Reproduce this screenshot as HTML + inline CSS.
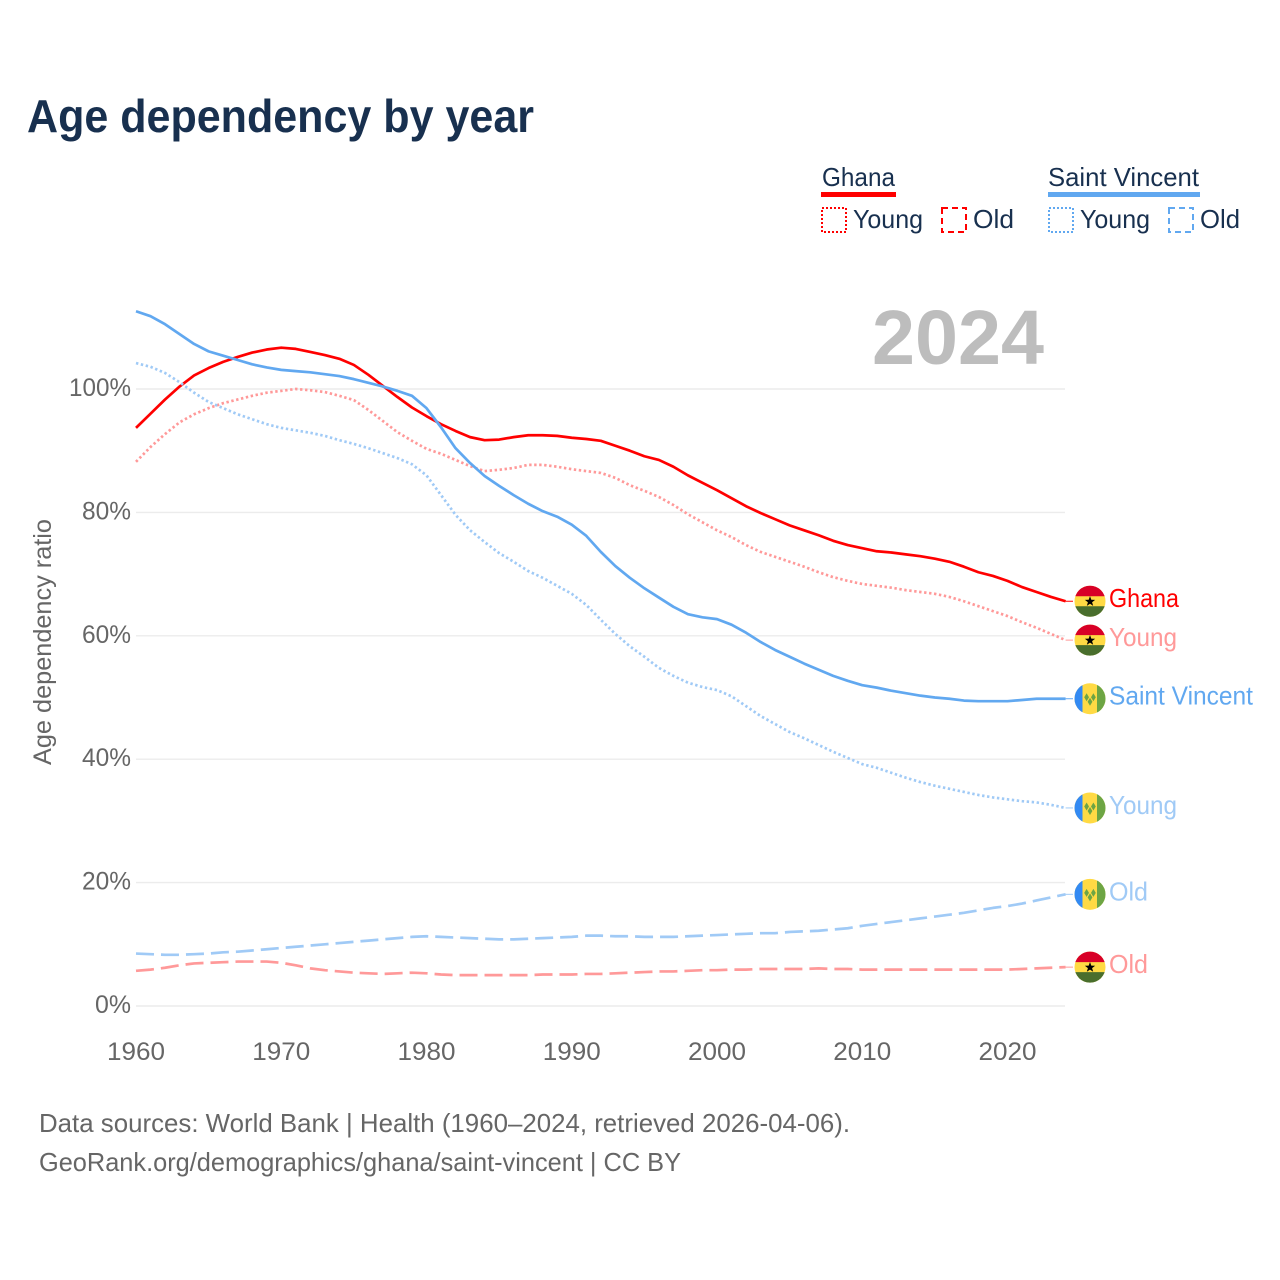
<!DOCTYPE html>
<html lang="en">
<head>
<meta charset="utf-8">
<title>Age dependency by year</title>
<style>
html,body{margin:0;padding:0;background:#fff;}
svg{display:block;font-family:"Liberation Sans",sans-serif;}
</style>
</head>
<body>
<svg id="chart" xmlns="http://www.w3.org/2000/svg" width="1280" height="1280" viewBox="0 0 1280 1280">
  <rect x="0" y="0" width="1280" height="1280" fill="#ffffff"/>
  <text x="27" y="132" font-size="46" font-weight="700" fill="#18304f" textLength="507" lengthAdjust="spacingAndGlyphs">Age dependency by year</text>

  <g font-size="26" fill="#18304f">
    <g>
      <text x="822" y="186" textLength="73" lengthAdjust="spacingAndGlyphs">Ghana</text>
      <rect x="821" y="192" width="75" height="5" fill="#ff0000"/>
    </g>
    <g>
      <rect x="822" y="208" width="24" height="24" fill="none" stroke="#ff0000" stroke-width="2" stroke-dasharray="2,2"/>
      <text x="853" y="228" textLength="70" lengthAdjust="spacingAndGlyphs">Young</text>
    </g>
    <g>
      <rect x="942" y="208" width="24" height="24" fill="none" stroke="#ff0000" stroke-width="2" stroke-dasharray="6,4"/>
      <text x="973" y="228" textLength="41" lengthAdjust="spacingAndGlyphs">Old</text>
    </g>
    <g>
      <text x="1048" y="186" textLength="151" lengthAdjust="spacingAndGlyphs">Saint Vincent</text>
      <rect x="1048" y="192" width="152" height="5" fill="#61a8f0"/>
    </g>
    <g>
      <rect x="1049" y="208" width="24" height="24" fill="none" stroke="#61a8f0" stroke-width="2" stroke-dasharray="2,2"/>
      <text x="1080" y="228" textLength="70" lengthAdjust="spacingAndGlyphs">Young</text>
    </g>
    <g>
      <rect x="1169" y="208" width="24" height="24" fill="none" stroke="#61a8f0" stroke-width="2" stroke-dasharray="6,4"/>
      <text x="1200" y="228" textLength="40" lengthAdjust="spacingAndGlyphs">Old</text>
    </g>
  </g>

  <g id="grid"></g>
  <text x="872" y="364" font-size="77" font-weight="700" fill="#bdbdbd" textLength="172" lengthAdjust="spacingAndGlyphs">2024</text>
  <text transform="translate(51,642) rotate(-90)" text-anchor="middle" font-size="25" fill="#666666" textLength="246" lengthAdjust="spacingAndGlyphs">Age dependency ratio</text>
  <g id="y-ticks"></g>
  <g id="x-ticks"></g>
  <g id="series"></g>
  <g id="end-labels"></g>

  <g font-size="26" fill="#666666">
    <text x="39" y="1132" textLength="811" lengthAdjust="spacingAndGlyphs">Data sources: World Bank | Health (1960–2024, retrieved 2026-04-06).</text>
    <text x="39" y="1171" textLength="642" lengthAdjust="spacingAndGlyphs">GeoRank.org/demographics/ghana/saint-vincent | CC BY</text>
  </g>
</svg>

<script>
const years = [
  1960,1961,1962,1963,1964,1965,1966,1967,1968,1969,
  1970,1971,1972,1973,1974,1975,1976,1977,1978,1979,
  1980,1981,1982,1983,1984,1985,1986,1987,1988,1989,
  1990,1991,1992,1993,1994,1995,1996,1997,1998,1999,
  2000,2001,2002,2003,2004,2005,2006,2007,2008,2009,
  2010,2011,2012,2013,2014,2015,2016,2017,2018,2019,
  2020,2021,2022,2023,2024
];
const ghanaTotal = [
  93.7,96.0,98.3,100.4,102.2,103.4,104.4,105.2,105.9,106.4,
  106.7,106.5,106.0,105.5,104.9,103.9,102.3,100.5,98.7,97.0,
  95.6,94.3,93.2,92.2,91.7,91.8,92.2,92.5,92.5,92.4,
  92.1,91.9,91.6,90.8,90.0,89.1,88.5,87.4,86.0,84.8,
  83.6,82.3,81.0,79.9,78.9,77.9,77.1,76.3,75.4,74.7,
  74.2,73.7,73.5,73.2,72.9,72.5,72.0,71.2,70.3,69.7,
  68.9,67.9,67.1,66.3,65.6
];
const ghanaYoung = [
  88.2,90.6,92.7,94.6,95.9,96.9,97.7,98.3,98.9,99.4,
  99.7,100.0,99.8,99.5,98.9,98.2,96.6,94.8,93.0,91.6,
  90.3,89.5,88.5,87.5,86.7,86.9,87.2,87.7,87.7,87.4,
  87.0,86.7,86.4,85.6,84.4,83.5,82.5,81.2,79.7,78.4,
  77.1,76.0,74.7,73.6,72.8,72.0,71.2,70.3,69.5,68.9,
  68.4,68.1,67.8,67.4,67.1,66.8,66.3,65.6,64.8,64.0,
  63.2,62.2,61.3,60.3,59.3
];
const ghanaOld = [
  5.7,5.9,6.2,6.6,6.9,7.0,7.1,7.2,7.2,7.2,
  7.0,6.6,6.1,5.8,5.6,5.4,5.3,5.2,5.3,5.4,
  5.3,5.1,5.0,5.0,5.0,5.0,5.0,5.0,5.1,5.1,
  5.1,5.2,5.2,5.3,5.4,5.5,5.6,5.6,5.7,5.8,
  5.8,5.9,5.9,6.0,6.0,6.0,6.0,6.1,6.0,6.0,
  5.9,5.9,5.9,5.9,5.9,5.9,5.9,5.9,5.9,5.9,
  5.9,6.0,6.1,6.2,6.3
];
const vincentTotal = [
  112.6,111.8,110.5,108.9,107.3,106.1,105.4,104.7,104.0,103.5,
  103.1,102.9,102.7,102.4,102.1,101.6,101.0,100.4,99.7,98.9,
  96.9,93.8,90.4,88.0,85.9,84.3,82.8,81.4,80.2,79.3,
  78.0,76.2,73.6,71.3,69.4,67.7,66.2,64.7,63.5,63.0,
  62.7,61.8,60.5,59.0,57.7,56.6,55.5,54.5,53.5,52.7,
  52.0,51.6,51.1,50.7,50.3,50.0,49.8,49.5,49.4,49.4,
  49.4,49.6,49.8,49.8,49.8
];
const vincentYoung = [
  104.2,103.6,102.6,101.1,99.4,97.9,96.9,95.9,95.1,94.3,
  93.7,93.3,92.9,92.4,91.7,91.1,90.4,89.6,88.8,87.8,
  86.0,82.8,79.6,77.1,75.2,73.4,72.0,70.5,69.4,68.1,
  66.8,65.0,62.6,60.3,58.3,56.6,54.8,53.5,52.4,51.7,
  51.2,50.2,48.6,47.0,45.7,44.4,43.4,42.3,41.2,40.2,
  39.2,38.6,37.8,37.0,36.3,35.7,35.2,34.7,34.2,33.8,
  33.5,33.2,33.0,32.6,32.1
];
const vincentOld = [
  8.5,8.4,8.3,8.3,8.4,8.5,8.7,8.8,9.0,9.2,
  9.4,9.6,9.8,10.0,10.2,10.4,10.6,10.8,11.0,11.2,
  11.3,11.2,11.1,11.0,10.9,10.8,10.8,10.9,11.0,11.1,
  11.2,11.4,11.4,11.3,11.3,11.2,11.2,11.2,11.3,11.4,
  11.5,11.6,11.7,11.8,11.8,12.0,12.1,12.2,12.4,12.6,
  13.0,13.3,13.6,13.9,14.2,14.5,14.8,15.1,15.5,15.9,
  16.2,16.6,17.1,17.6,18.1
];
const yTickValues = [0,20,40,60,80,100];
const yTickLabels = ["0%","20%","40%","60%","80%","100%"];
const xTickValues = [1960,1970,1980,1990,2000,2010,2020];
const xTickLabels = ["1960","1970","1980","1990","2000","2010","2020"];

const NS = "http://www.w3.org/2000/svg";
function xScale(year){ return 136 + (year - 1960) * 14.525; }
function yScale(pct){ return 1006 - pct * 6.17; }
function make(tag, parent, attrs){
  const el = document.createElementNS(NS, tag);
  for (const k in attrs) el.setAttribute(k, attrs[k]);
  parent.appendChild(el);
  return el;
}

const grid = document.getElementById("grid");
const yTicks = document.getElementById("y-ticks");
yTickValues.forEach(function(v, i){
  const line = make("line", grid, {x1:136, x2:1065, y1:yScale(v), y2:yScale(v), stroke:"#ececec", "stroke-width":1.4});
  
  
  const label = make("text", yTicks, {x:131, y:yScale(v)+7, "text-anchor":"end", "font-size":25, fill:"#666666"});
  
  
  label.setAttribute('textLength', String(yTickLabels[i].length * 13 + 10));
  label.setAttribute('lengthAdjust', 'spacingAndGlyphs');
  label.textContent = yTickLabels[i];
});

const xTicks = document.getElementById("x-ticks");
xTickValues.forEach(function(v, i){
  const label = make("text", xTicks, {x:xScale(v), y:1060, "text-anchor":"middle", "font-size":25, fill:"#666666"});
  
  
  label.setAttribute('textLength', '58');
  label.setAttribute('lengthAdjust', 'spacingAndGlyphs');
  label.textContent = xTickLabels[i];
});

const DOT = "2.4,2.6";
const DASH = "18,7";
const seriesList = [
  {key:"ghana-total", values:ghanaTotal, color:"#ff0000", dash:"", text:"Ghana", width:70, flag:"ghana"},
  {key:"ghana-young", values:ghanaYoung, color:"#ff9999", dash:DOT, text:"Young", width:68, flag:"ghana"},
  {key:"ghana-old", values:ghanaOld, color:"#ff9999", dash:DASH, text:"Old", width:39, flag:"ghana"},
  {key:"saint-vincent-total", values:vincentTotal, color:"#61a8f0", dash:"", text:"Saint Vincent", width:144, flag:"vincent"},
  {key:"saint-vincent-young", values:vincentYoung, color:"#a0caf6", dash:DOT, text:"Young", width:68, flag:"vincent"},
  {key:"saint-vincent-old", values:vincentOld, color:"#a0caf6", dash:DASH, text:"Old", width:39, flag:"vincent"}
];

function drawGhanaFlag(g, cy){
  const cx = 1090;
  const clipId = "clip" + Math.round(cy * 10);
  const clip = make("clipPath", g, {id:clipId});
  make("circle", clip, {cx:cx, cy:cy, r:15.5});
  const bands = make("g", g, {"clip-path":"url(#" + clipId + ")"});
  make("rect", bands, {x:cx-16, y:cy-16, width:32, height:32, fill:"#ffda44"});
  make("rect", bands, {x:cx-16, y:cy-16, width:32, height:11, fill:"#d80027"});
  make("rect", bands, {x:cx-16, y:cy+5, width:32, height:11, fill:"#496e2d"});
  const pts = [];
  for (let i = 0; i < 10; i++){
    const r = i % 2 ? 2.2 : 5.4;
    const a = -Math.PI / 2 + i * Math.PI / 5;
    pts.push((cx + r * Math.cos(a)).toFixed(2) + "," + (cy + 0.3 + r * Math.sin(a)).toFixed(2));
  }
  make("polygon", g, {points:pts.join(" "), fill:"#000000"});
}
function drawVincentFlag(g, cy){
  const cx = 1090;
  const clipId = "clip" + Math.round(cy * 10);
  const clip = make("clipPath", g, {id:clipId});
  make("circle", clip, {cx:cx, cy:cy, r:15.5});
  const bands = make("g", g, {"clip-path":"url(#" + clipId + ")"});
  make("rect", bands, {x:cx-16, y:cy-16, width:32, height:32, fill:"#ffda44"});
  make("rect", bands, {x:cx-16, y:cy-16, width:8.5, height:32, fill:"#338af3"});
  make("rect", bands, {x:cx+7, y:cy-16, width:9, height:32, fill:"#6da544"});
  [[-3.4,-1.5],[3.4,-1.5],[0,3]].forEach(function(d){
    const dx = cx + d[0], dy = cy + d[1];
    make("polygon", g, {points:dx+","+(dy-4)+" "+(dx+2.4)+","+dy+" "+dx+","+(dy+4)+" "+(dx-2.4)+","+dy, fill:"#6da544"});
  });
}

const seriesGroup = document.getElementById("series");
const endLabels = document.getElementById("end-labels");
seriesList.forEach(function(s){
  const pts = s.values.map(function(v, i){ return xScale(years[i]).toFixed(2) + "," + yScale(v).toFixed(2); });
  const line = make("polyline", seriesGroup, {points:pts.join(" "), fill:"none", stroke:s.color, "stroke-width":2.7, "stroke-linejoin":"round"});
  if (s.dash) line.setAttribute("stroke-dasharray", s.dash);
  
  

  const lastY = yScale(s.values[s.values.length - 1]);
  const lastX = xScale(years[years.length - 1]);
  const leader = make("line", seriesGroup, {x1:lastX, x2:1073, y1:lastY, y2:lastY, stroke:s.color, "stroke-width":1});
  
  

  const flag = make("g", endLabels, {});
  
  
  if (s.flag === "ghana") drawGhanaFlag(flag, lastY); else drawVincentFlag(flag, lastY);

  const label = make("text", endLabels, {x:1109, y:lastY + 6, "font-size":26, fill:s.color});
  
  
  label.setAttribute('textLength', String(s.width));
  label.setAttribute('lengthAdjust', 'spacingAndGlyphs');
  label.textContent = s.text;
});
</script>
</body>
</html>
